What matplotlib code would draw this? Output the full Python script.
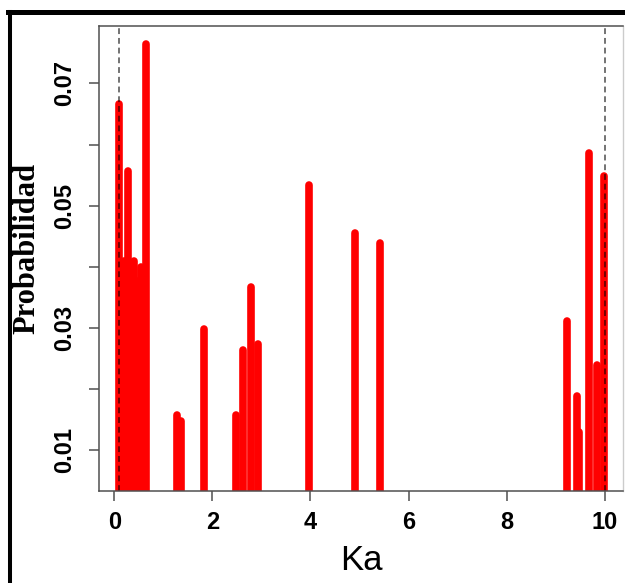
import matplotlib
matplotlib.use("Agg")
import matplotlib.pyplot as plt
from matplotlib.lines import Line2D

# Ka values and their probabilities
ka = [0.10, 0.19, 0.29, 0.41, 0.48, 0.54, 0.64,
      1.27, 1.36, 1.83,
      2.49, 2.63, 2.78, 2.94,
      3.96, 4.91, 5.42,
      9.22, 9.43, 9.47, 9.68, 9.83, 9.99]
prob = [0.0667, 0.0409, 0.0556, 0.0409, 0.0377, 0.0399, 0.0764,
        0.0158, 0.0147, 0.0298,
        0.0157, 0.0264, 0.0367, 0.0273,
        0.0534, 0.0455, 0.0439,
        0.0312, 0.0188, 0.0129, 0.0586, 0.0240, 0.0548]

# limits of the prior range
ka_limits = [0.1, 10.0]

xticks = [0, 2, 4, 6, 8, 10]
yticks = [0.01, 0.02, 0.03, 0.04, 0.05, 0.06, 0.07]
ytick_labels = ["0.01", "", "0.03", "", "0.05", "", "0.07"]

fig = plt.figure(figsize=(6.25, 5.83), dpi=100)
ax = fig.add_axes([0.1584, 0.1578, 0.8384, 0.7976])

ax.vlines(ka, 0, prob, colors="#ff0000", linewidth=5.5, capstyle="round")
for k in ka_limits:
    ax.axvline(k, color="black", alpha=0.55, linewidth=1.4,
               linestyle=(0, (3.0, 2.0)))

ax.set_xlim(-0.31, 10.37)
ax.set_ylim(0.0033, 0.0794)

ax.set_xticks(xticks)
ax.set_xticklabels([str(t) for t in xticks])
ax.set_yticks(yticks)
ax.set_yticklabels(ytick_labels, rotation=90, va="center")

ax.tick_params(axis="both", length=7.5, width=1.1, color="#505050",
               labelsize=17, labelfontfamily="Liberation Sans")
ax.tick_params(axis="x", pad=7)
ax.tick_params(axis="y", pad=9)
for lab in ax.get_xticklabels() + ax.get_yticklabels():
    lab.set_fontweight("bold")

for side in ["left", "top", "bottom"]:
    ax.spines[side].set_color("#505050")
    ax.spines[side].set_linewidth(1.1)
ax.spines["right"].set_color("#cccccc")
ax.spines["right"].set_linewidth(1.0)

ax.set_xlabel("Ka", family="Liberation Sans", size=25, va="center")
ax.xaxis.set_label_coords(0.5, -0.1505)
ax.set_ylabel("Probabilidad", family="Liberation Serif", weight="bold",
              size=22, va="center")
ax.yaxis.set_label_coords(-0.137, 0.5226)

# outer black frame
fig.add_artist(Line2D([0.013, 1.0], [0.9786, 0.9786], color="black",
                      linewidth=3.6, transform=fig.transFigure))
fig.add_artist(Line2D([0.0165, 0.0165], [0.0034, 0.9786], color="black",
                      linewidth=2.9, transform=fig.transFigure))

fig.savefig("out.png", dpi=100)
